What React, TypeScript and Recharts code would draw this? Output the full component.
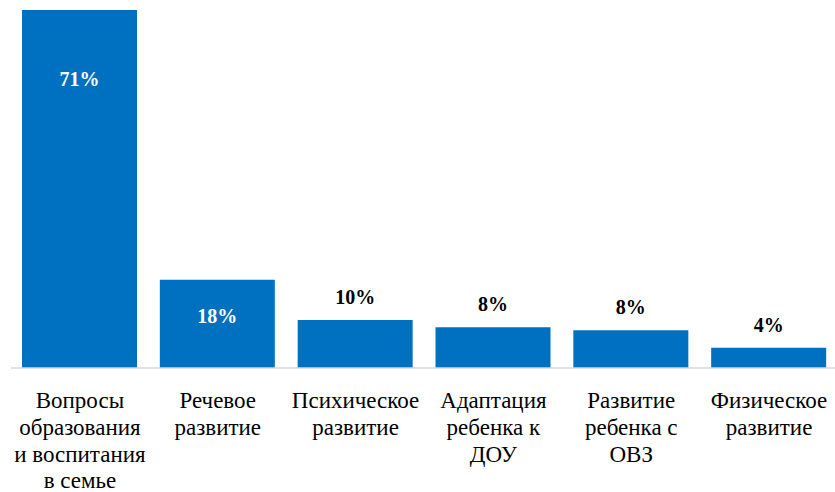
import React from 'react';
import { BarChart, Bar, XAxis, YAxis, LabelList } from 'recharts';

const categories = [
  'Вопросы\nобразования\nи воспитания\nв семье',
  'Речевое\nразвитие',
  'Психическое\nразвитие',
  'Адаптация\nребенка к\nДОУ',
  'Развитие\nребенка с\nОВЗ',
  'Физическое\nразвитие',
];
const shares = [71, 17.5, 9.5, 8.1, 7.5, 4];

const data = categories.map((name, i) => ({ name, value: shares[i] }));

const FONT = '"Liberation Serif", "Times New Roman", serif';

// force the serif face on svg text (inline !important)
const serif = (size: number, bold = false) => (el: SVGTextElement | null) => {
  if (!el) return;
  el.style.setProperty('font-family', FONT, 'important');
  el.style.setProperty('font-size', `${size}px`, 'important');
  el.style.setProperty('font-weight', bold ? 'bold' : 'normal', 'important');
  el.style.setProperty('letter-spacing', 'normal', 'important');
};

const CategoryTick = (props: any) => {
  const { x, y, payload } = props;
  const lines = String(payload.value).split('\n');
  return (
    <text ref={serif(23)} x={x} y={y} textAnchor="middle" fill="#000" fontFamily={FONT} fontSize={23}>
      {lines.map((line, i) => (
        <tspan key={i} x={x} dy={i === 0 ? 40 : 26.8}>{line}</tspan>
      ))}
    </text>
  );
};

const ValueLabel = (props: any) => {
  const { x, y, width, value, index } = props;
  const inside = value > 15;
  const ty = inside ? y + (index === 0 ? 76 : 43) : y - 16;
  return (
    <text
      ref={serif(20, true)}
      x={x + width / 2}
      y={ty}
      textAnchor="middle"
      fill={inside ? '#fff' : '#000'}
      fontFamily={FONT}
      fontSize={20}
      fontWeight="bold"
    >
      {Math.round(value)}%
    </text>
  );
};

export default function App() {
  return (
    <div style={{ position: 'absolute', left: 0, top: 0, width: 835, height: 492, overflow: 'hidden', background: '#fff' }}>
      <BarChart width={838} height={492} data={data} margin={{ top: 5, right: 0, bottom: 0, left: 11 }} barSize={115}>
        <XAxis
          dataKey="name"
          interval={0}
          axisLine={{ stroke: '#d9d9d9', strokeWidth: 1.5 }}
          tickLine={false}
          tickSize={0}
          tickMargin={0}
          height={124}
          tick={<CategoryTick />}
        />
        <YAxis hide domain={[0, 72]} />
        <Bar dataKey="value" fill="#0070c0" isAnimationActive={false}>
          <LabelList dataKey="value" content={<ValueLabel />} />
        </Bar>
      </BarChart>
    </div>
  );
}
